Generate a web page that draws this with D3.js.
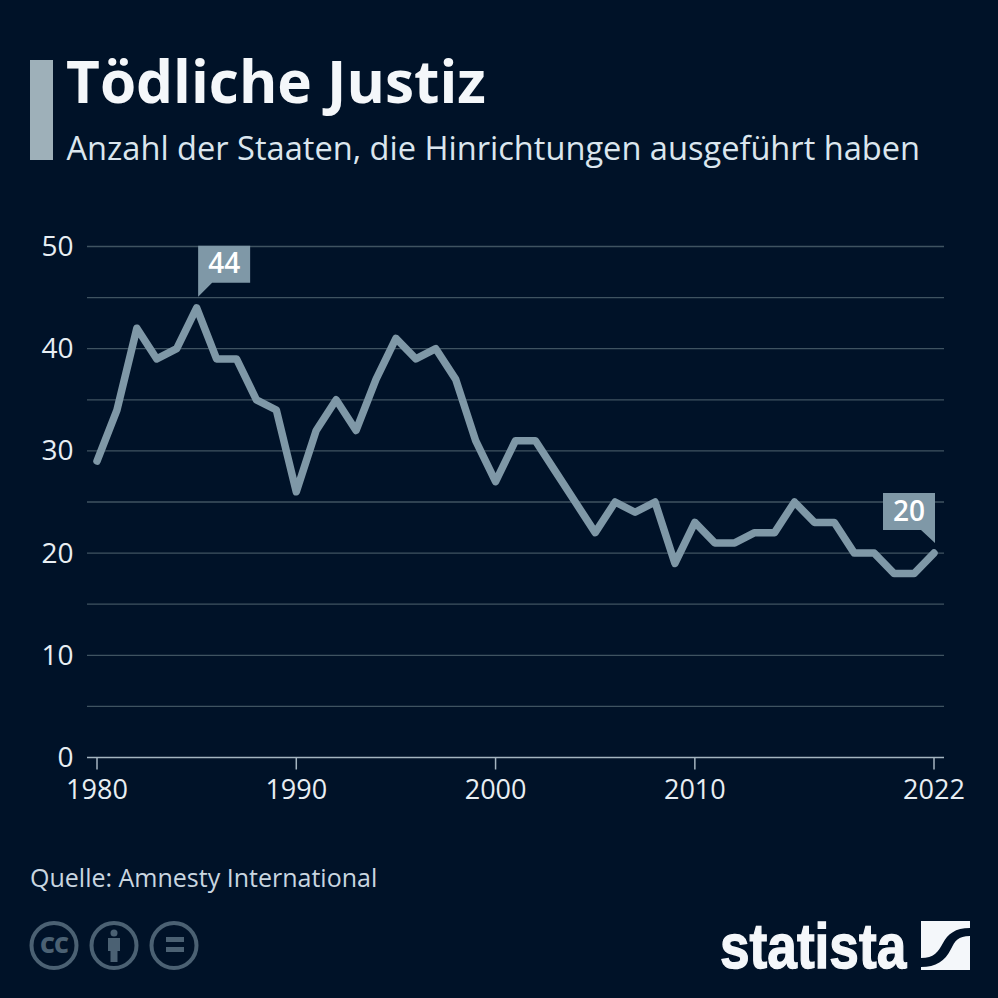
<!DOCTYPE html>
<html>
<head>
<meta charset="utf-8">
<script src="https://cdn.jsdelivr.net/npm/d3@7"></script>
<style>
  html, body { margin: 0; padding: 0; background: #001228; }
  svg { display: block; }
  text { font-family: "Open Sans", sans-serif; }
</style>
</head>
<body>
<div id="chart"></div>
<script>
const years = d3.range(1980, 2023);
const states = [29, 34, 42, 39, 40, 44, 39, 39, 35, 34, 26, 32, 35, 32, 37, 41, 39, 40, 37, 31,
  27, 31, 31, 28, 25, 22, 25, 24, 25, 19, 23, 21, 21, 22, 22, 25, 23, 23, 20, 20, 18, 18, 20];
const yTicks = [0, 10, 20, 30, 40, 50];
const yGrid = [5, 10, 15, 20, 25, 30, 35, 40, 45, 50];
const xTicks = [1980, 1990, 2000, 2010, 2022];
const callouts = [
  { year: 1985, side: 'right' },
  { year: 2022, side: 'left' }
];

const width = 998, height = 998;
const bg = '#001228', lineColor = '#7f98a7', textColor = '#e8eef3';

const svg = d3.select('#chart').append('svg')
  .attr('width', width)
  .attr('height', height);

svg.append('rect').attr('width', width).attr('height', height).attr('fill', bg);

// Header
svg.append('rect').attr('x', 30).attr('y', 60).attr('width', 23).attr('height', 100).attr('fill', '#9eb0b9');
svg.append('text').attr('x', 66).attr('y', 103)
  .attr('font-size', 58.5).attr('font-weight', 700).attr('fill', '#f4f7fa')
  .text('Tödliche Justiz');
svg.append('text').attr('x', 66.5).attr('y', 160)
  .attr('font-size', 32.6).attr('fill', '#dbe6ee')
  .text('Anzahl der Staaten, die Hinrichtungen ausgeführt haben');

// Scales
const x = d3.scaleLinear().domain([1980, 2022]).range([97, 934]);
const y = d3.scaleLinear().domain([0, 50]).range([757.5, 246.5]);

// Grid
svg.selectAll('.grid')
  .data(yGrid)
  .join('line')
  .attr('class', 'grid')
  .attr('x1', 87).attr('x2', 944)
  .attr('y1', d => y(d)).attr('y2', d => y(d))
  .attr('stroke', '#3f5361').attr('stroke-width', 1.3);

// Axes
svg.append('line')
  .attr('x1', 87).attr('x2', 944)
  .attr('y1', y(0)).attr('y2', y(0))
  .attr('stroke', '#a4b5c0').attr('stroke-width', 1.5);

svg.selectAll('.x-tick')
  .data(xTicks)
  .join('line')
  .attr('class', 'x-tick')
  .attr('x1', d => x(d)).attr('x2', d => x(d))
  .attr('y1', y(0)).attr('y2', y(0) + 12)
  .attr('stroke', '#a4b5c0').attr('stroke-width', 1.5);

svg.selectAll('.x-label')
  .data(xTicks)
  .join('text')
  .attr('class', 'x-label')
  .attr('x', d => x(d))
  .attr('y', 799)
  .attr('text-anchor', 'middle')
  .attr('font-size', 27)
  .attr('fill', textColor)
  .text(d => d);

svg.selectAll('.y-label')
  .data(yTicks)
  .join('text')
  .attr('class', 'y-label')
  .attr('x', 73.5)
  .attr('y', d => y(d) + 9.5)
  .attr('text-anchor', 'end')
  .attr('font-size', 28)
  .attr('fill', textColor)
  .text(d => d);

// Line
const line = d3.line()
  .x((d, i) => x(years[i]))
  .y(d => y(d));

svg.append('path')
  .datum(states)
  .attr('d', line)
  .attr('fill', 'none')
  .attr('stroke', lineColor)
  .attr('stroke-width', 7.5)
  .attr('stroke-linejoin', 'round')
  .attr('stroke-linecap', 'round');

// Callouts
callouts.forEach(c => {
  const v = states[years.indexOf(c.year)];
  const px = x(c.year), py = y(v);
  const w = 52, h = 37;
  let left, shape;
  if (c.side === 'right') {
    left = px + 1.5;
    const top = py - 62;
    shape = [[left, top], [left + w, top], [left + w, top + h], [left + 14, top + h], [left, top + h + 14]];
    drawCallout(shape, left + w / 2, top + 27.5, v);
  } else {
    left = px + 1 - w;
    const top = py - 60;
    shape = [[left, top], [left + w, top], [left + w, top + h + 13], [left + w - 14, top + h], [left, top + h]];
    drawCallout(shape, left + w / 2, top + 27.5, v);
  }
});

function drawCallout(shape, tx, ty, v) {
  svg.append('path')
    .attr('d', d3.line()(shape) + 'Z')
    .attr('fill', lineColor);
  svg.append('text')
    .attr('x', tx).attr('y', ty)
    .attr('text-anchor', 'middle')
    .attr('font-size', 28).attr('font-weight', 600)
    .attr('fill', '#ffffff')
    .text(v);
}

// Source
svg.append('text').attr('x', 30).attr('y', 887)
  .attr('font-size', 25).attr('fill', '#c9d6e0')
  .text('Quelle: Amnesty International');

// Licence icons
const icons = svg.append('g').attr('fill', '#4b6173');
[54, 114, 174].forEach(cx => {
  icons.append('circle').attr('cx', cx).attr('cy', 945.5).attr('r', 22.5)
    .attr('fill', 'none').attr('stroke', '#4b6173').attr('stroke-width', 4);
});
icons.append('text').attr('x', 54).attr('y', 953).attr('text-anchor', 'middle')
  .attr('font-size', 23).attr('font-weight', 800).attr('letter-spacing', -1).text('CC');
icons.append('circle').attr('cx', 114).attr('cy', 933).attr('r', 3.5);
icons.append('path').attr('d', 'M108 938H120V951H117.5V962H110.5V951H108Z');
icons.append('rect').attr('x', 166).attr('y', 937).attr('width', 18).attr('height', 5);
icons.append('rect').attr('x', 166).attr('y', 947).attr('width', 18).attr('height', 5);

// Logo
svg.append('text').attr('x', 0).attr('y', 0)
  .attr('transform', 'translate(720,968) scale(0.95,1.14)')
  .style('font-family', '"Liberation Sans Narrow", "Liberation Sans", sans-serif')
  .attr('font-size', 56).attr('font-weight', 700)
  .attr('stroke', '#f4f7fa').attr('stroke-width', 1.2)
  .attr('fill', '#f4f7fa')
  .text('statista');
svg.append('rect').attr('x', 921).attr('y', 921).attr('width', 49).attr('height', 49).attr('fill', '#f4f7fa');
svg.append('path')
  .attr('d', 'M921 958C934 958 938 952 943 943C948 934 955 928 970 928L970 936C958 936 955 941 951 949C945 961 936 967 921 967Z')
  .attr('fill', bg);
</script>
</body>
</html>
